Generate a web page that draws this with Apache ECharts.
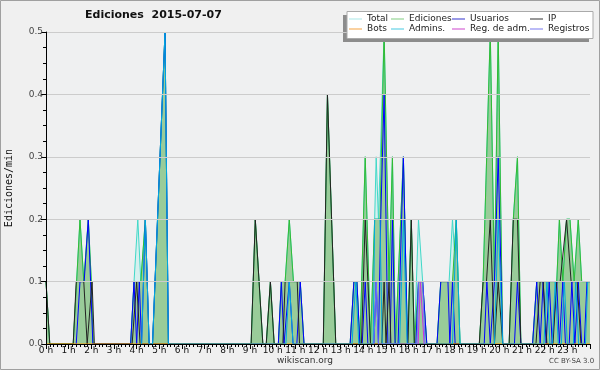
<!DOCTYPE html>
<html>
<head>
<meta charset="utf-8">
<script src="https://cdn.jsdelivr.net/npm/echarts@6/dist/echarts.min.js"></script>
<style>
  html, body { margin: 0; padding: 0; background: #f0f0f0; }
  #chart { width: 600px; height: 370px; }
</style>
</head>
<body>
<div id="chart"></div>
<script>
// points are [minute of day, edits per minute]
var totalPts = [
    [0, 0.1], [10, 0],
    [72, 0], [90, 0.2], [100, 0.1], [112, 0.2], [120, 0.1], [125, 0],
    [224, 0], [233, 0.1], [243, 0.2], [251, 0.1], [263, 0.2], [273, 0], [282, 0], [315, 0.5], [324, 0],
    [543, 0], [554, 0.2], [574, 0], [583, 0], [594, 0.1], [604, 0], [615, 0], [623, 0.1], [633, 0.1], [644, 0.2], [655, 0.1], [673, 0.1], [683, 0],
    [734, 0], [745, 0.4], [767, 0],
    [805, 0], [815, 0.1], [823, 0.1], [831, 0], [835, 0], [845, 0.3], [859, 0], [864, 0], [870, 0.2], [874, 0.3], [880, 0.2], [884, 0.2], [895, 0.5], [908, 0.1], [917, 0.3], [925, 0], [929, 0], [946, 0.3], [957, 0], [967, 0.2], [975, 0], [979, 0], [986, 0.2], [997, 0.1], [1008, 0],
    [1035, 0], [1045, 0.1], [1067, 0.1], [1076, 0.2], [1081, 0.15], [1086, 0.2], [1096, 0],
    [1147, 0], [1157, 0.1], [1176, 0.5], [1187, 0.1], [1197, 0.5], [1209, 0], [1226, 0], [1237, 0.2], [1248, 0.3], [1257, 0],
    [1288, 0], [1299, 0.1], [1352, 0.1], [1359, 0.2], [1368, 0.1], [1378, 0.2], [1387, 0.2], [1398, 0.1], [1409, 0.2], [1418, 0.1], [1440, 0.1]
];

var editPts = [
    [0, 0.1], [10, 0],
    [72, 0], [90, 0.2], [100, 0.1], [112, 0.2], [120, 0.1], [125, 0],
    [224, 0], [233, 0.1], [251, 0.1], [263, 0.2], [273, 0], [282, 0], [315, 0.5], [324, 0],
    [543, 0], [554, 0.2], [574, 0], [583, 0], [594, 0.1], [604, 0], [615, 0], [623, 0.1], [633, 0.1], [644, 0.2], [655, 0.1], [673, 0.1], [683, 0],
    [734, 0], [745, 0.4], [767, 0],
    [805, 0], [815, 0.1], [823, 0.1], [831, 0], [835, 0], [845, 0.3], [859, 0], [864, 0], [870, 0.2], [884, 0.2], [895, 0.5], [908, 0.1], [917, 0.3], [925, 0], [929, 0], [946, 0.3], [957, 0], [967, 0.2], [975, 0], [979, 0], [986, 0.1], [997, 0.1], [1008, 0],
    [1035, 0], [1045, 0.1], [1076, 0.1], [1086, 0.2], [1096, 0],
    [1147, 0], [1157, 0.1], [1176, 0.5], [1187, 0.1], [1197, 0.5], [1209, 0], [1226, 0], [1237, 0.2], [1248, 0.3], [1257, 0],
    [1288, 0], [1299, 0.1], [1352, 0.1], [1359, 0.2], [1368, 0.1], [1378, 0.2], [1387, 0.2], [1398, 0.1], [1409, 0.2], [1418, 0.1], [1440, 0.1]
];

var userPts = [
    [80, 0], [90, 0.1], [101, 0.1], [112, 0.2], [124, 0],
    [224, 0], [233, 0.1], [240, 0], [247, 0.1], [253, 0], [263, 0.2], [273, 0], [282, 0], [315, 0.5], [324, 0],
    [615, 0], [623, 0.1], [630, 0], [635, 0], [644, 0.1], [654, 0], [664, 0], [673, 0.1], [683, 0],
    [805, 0], [815, 0.1], [823, 0.1], [831, 0], [837, 0], [845, 0.1], [852, 0], [868, 0], [874, 0.1], [880, 0], [886, 0.2], [895, 0.4], [905, 0], [911, 0], [917, 0.2], [924, 0], [932, 0], [946, 0.3], [957, 0], [979, 0], [986, 0.1], [997, 0.1], [1008, 0],
    [1035, 0], [1045, 0.1], [1064, 0.1], [1069, 0], [1076, 0.1], [1083, 0],
    [1160, 0], [1167, 0.1], [1176, 0], [1187, 0.1], [1197, 0.3], [1209, 0], [1240, 0], [1248, 0.1], [1257, 0],
    [1288, 0], [1299, 0.1], [1308, 0], [1316, 0.1], [1324, 0], [1332, 0.1], [1340, 0], [1345, 0], [1352, 0.1], [1359, 0], [1368, 0.1], [1375, 0], [1385, 0], [1392, 0.1], [1400, 0], [1409, 0.1], [1418, 0], [1425, 0], [1432, 0.1], [1440, 0.1]
];

var ipPts = [
    [0, 0.1], [10, 0],
    [72, 0], [80, 0.1], [100, 0.1], [109, 0], [114, 0], [122, 0.1], [128, 0],
    [228, 0], [240, 0.1], [249, 0],
    [543, 0], [554, 0.2], [574, 0], [583, 0], [594, 0.1], [604, 0], [627, 0], [633, 0.1], [665, 0.1], [671, 0],
    [734, 0], [745, 0.4], [767, 0],
    [835, 0], [845, 0.2], [859, 0], [889, 0], [895, 0.1], [900, 0], [903, 0], [908, 0.1], [913, 0], [958, 0], [967, 0.2], [975, 0],
    [1147, 0], [1157, 0.1], [1166, 0.1], [1176, 0.2], [1187, 0], [1197, 0.1], [1209, 0], [1226, 0], [1237, 0.2], [1248, 0.2], [1257, 0],
    [1297, 0], [1308, 0.1], [1316, 0.1], [1326, 0], [1342, 0], [1352, 0.1], [1361, 0.1], [1378, 0.2], [1390, 0.1], [1406, 0.1], [1416, 0]
];

var botPts = [[0, 0], [1440, 0]];

var adminPts = [
    [253, 0], [263, 0.2], [273, 0], [282, 0], [315, 0.5], [324, 0],
    [635, 0], [644, 0.1], [654, 0],
    [810, 0], [820, 0.1], [828, 0], [866, 0], [870, 0.2], [884, 0.2], [890, 0], [936, 0], [946, 0.2], [956, 0],
    [1076, 0], [1086, 0.2], [1096, 0],
    [1187, 0], [1197, 0.2], [1209, 0],
    [1318, 0], [1326, 0.1], [1334, 0], [1340, 0], [1348, 0.1], [1356, 0], [1364, 0], [1372, 0.1], [1380, 0], [1396, 0], [1402, 0.1], [1410, 0], [1428, 0], [1434, 0.1], [1440, 0.1]
];

var regAdmPts = [[985, 0], [991, 0.1], [1001, 0]];

var regPts = [[868, 0], [874, 0.1], [880, 0], [982, 0], [986, 0.1], [997, 0.1], [1003, 0]];

var legendCols = [
    ['Total', 'Bots'],
    ['Ediciones', 'Admins.'],
    ['Usuarios', 'Reg. de adm.'],
    ['IP', 'Registros']
];
var legendLeft = [349, 391, 452, 530];
var legendColor = {
    'Total': '#a8e6e6', 'Ediciones': '#80cc80', 'Usuarios': '#3333cc', 'IP': '#333333',
    'Bots': '#f5a340', 'Admins.': '#44c8e0', 'Reg. de adm.': '#cc44cc', 'Registros': '#7777ee'
};

var chart = echarts.init(document.getElementById('chart'));

function lineSeries(name, pts, color, area) {
    var s = {
        name: name,
        type: 'line',
        data: pts,
        showSymbol: false,
        symbol: 'none',
        animation: false,
        itemStyle: {color: color},
        lineStyle: {color: color, width: 1}
    };
    if (area) {
        s.areaStyle = {color: area, opacity: 1};
    }
    return s;
}

var legends = legendCols.map(function (col, i) {
    return {
        orient: 'vertical',
        left: legendLeft[i],
        top: 14,
        padding: 0,
        itemGap: 0,
        itemWidth: 13,
        itemHeight: 1,
        icon: 'rect',
        z: 20,
        selectedMode: false,
        textStyle: {fontFamily: 'DejaVu Sans', fontSize: 9, color: '#222', lineHeight: 10},
        data: col.map(function (n) {
            return {name: n, itemStyle: {color: legendColor[n]}};
        })
    };
});

var option = {
    backgroundColor: '#f0f0f0',
    animation: false,
    title: {
        text: 'Ediciones  2015-07-07',
        left: 85,
        top: 10,
        padding: 0,
        textStyle: {fontFamily: 'DejaVu Sans', fontSize: 11, fontWeight: 'bold', color: '#111'}
    },
    legend: legends,
    grid: {
        left: 46, right: 10, top: 32, bottom: 26,
        containLabel: false,
        outerBoundsMode: 'none',
        show: true, backgroundColor: '#eff0f1', borderWidth: 0
    },
    xAxis: {
        type: 'value',
        min: 0, max: 1440, interval: 60,
        z: 10,
        axisLine: {lineStyle: {color: '#000', width: 1}},
        axisTick: {length: 5, lineStyle: {color: '#000'}},
        minorTick: {show: true, splitNumber: 6, length: 3, lineStyle: {color: '#000'}},
        splitLine: {show: false},
        axisLabel: {
            margin: 2,
            fontFamily: 'DejaVu Sans', fontSize: 9, color: '#111',
            formatter: function (v) {
                return v >= 1440 ? '' : (v / 60) + ' h';
            }
        }
    },
    yAxis: {
        type: 'value',
        min: 0, max: 0.5, interval: 0.1,
        z: 10,
        name: 'Ediciones/min',
        nameLocation: 'middle',
        nameGap: 32,
        nameTextStyle: {fontFamily: 'DejaVu Sans Mono', fontSize: 10, color: '#111'},
        axisLine: {show: true, lineStyle: {color: '#000', width: 1}},
        axisTick: {show: true, length: 5, lineStyle: {color: '#000'}},
        minorTick: {show: true, splitNumber: 4, length: 3, lineStyle: {color: '#000'}},
        splitLine: {show: true, lineStyle: {color: '#cccccc', width: 1}},
        axisLabel: {
            margin: 3,
            fontFamily: 'DejaVu Sans', fontSize: 9, color: '#444',
            formatter: function (v) { return v.toFixed(1); }
        }
    },
    graphic: [
        {type: 'rect', z: 10, shape: {x: 343, y: 15, width: 246, height: 27}, style: {fill: '#8c8c8c'}},
        {type: 'rect', z: 11, shape: {x: 347, y: 11.5, width: 246, height: 27}, style: {fill: '#fff', stroke: '#aaa', lineWidth: 1}},
        {type: 'text', z: 11, left: 277, top: 356, style: {text: 'wikiscan.org', fontFamily: 'DejaVu Sans', fontSize: 9, fill: '#333'}},
        {type: 'text', z: 11, left: 549, top: 358, style: {text: 'CC BY-SA 3.0', fontFamily: 'DejaVu Sans', fontSize: 7, fill: '#444'}},
        {type: 'rect', z: 12, shape: {x: 0.5, y: 0.5, width: 599, height: 369}, style: {fill: 'none', stroke: '#a0a0a0', lineWidth: 1}}
    ],
    series: [
        lineSeries('Total', totalPts, '#40d8c8', '#d6f0ee'),
        lineSeries('Ediciones', editPts, '#33bb33', '#99cc99'),
        lineSeries('Usuarios', userPts, '#0000ff'),
        lineSeries('IP', ipPts, '#222222'),
        lineSeries('Bots', botPts, '#ff9900'),
        lineSeries('Admins.', adminPts, '#00aadd'),
        lineSeries('Reg. de adm.', regAdmPts, '#cc33dd'),
        lineSeries('Registros', regPts, '#7070ff')
    ]
};

chart.setOption(option);
</script>
</body>
</html>
